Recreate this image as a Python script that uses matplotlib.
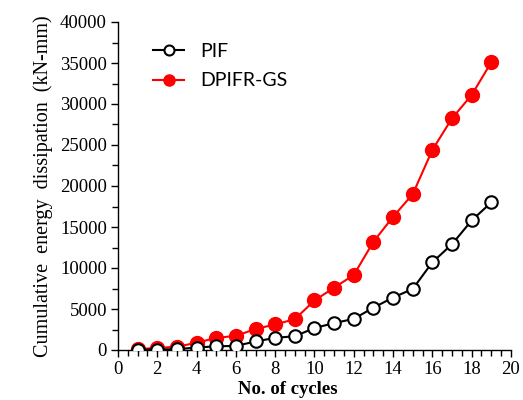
import matplotlib
matplotlib.use('Agg')
from matplotlib import pyplot as plt
from matplotlib.ticker import MultipleLocator

cycles = list(range(1, 20))
pif = [50, 50, 100, 300, 450, 500, 1040, 1480, 1680, 2680, 3280, 3800,
       5160, 6400, 7440, 10700, 12900, 15800, 18000]
dpifr_gs = [100, 250, 400, 880, 1480, 1720, 2560, 3120, 3760, 6040, 7600,
            9150, 13200, 16250, 19000, 24400, 28250, 31100, 35100]

serif = 'Liberation Serif'

fig = plt.figure(figsize=(5.23, 4.0), dpi=100)
ax = fig.add_axes([0.2256, 0.125, 0.7514, 0.82])

ax.plot(cycles, pif, c='black', marker='o', markerfacecolor='white',
        markeredgecolor='black', markeredgewidth=1.5, markersize=9,
        linewidth=1.5, label='PIF', zorder=3)
ax.plot(cycles, dpifr_gs, c='red', marker='o', markerfacecolor='red',
        markeredgecolor='red', markersize=10, linewidth=1.5,
        label='DPIFR-GS', zorder=2)

ax.set_xlim(0, 20)
ax.set_ylim(0, 40000)
ax.xaxis.set_major_locator(MultipleLocator(2))
ax.xaxis.set_minor_locator(MultipleLocator(0.5))
ax.yaxis.set_major_locator(MultipleLocator(5000))
ax.yaxis.set_minor_locator(MultipleLocator(2500))

for side in ['top', 'right']:
    ax.spines[side].set_visible(False)
for side in ['left', 'bottom']:
    ax.spines[side].set_linewidth(1.0)

ax.tick_params(axis='both', which='major', direction='out', length=5,
               width=1.0, labelsize=13.5, pad=3)
ax.tick_params(axis='both', which='minor', direction='out', length=4,
               width=1.0)
for lab in ax.get_xticklabels() + ax.get_yticklabels():
    lab.set_fontfamily(serif)

ax.set_xlabel('No. of cycles', fontsize=13.5, fontfamily=serif,
              fontweight='bold', labelpad=2)
ax.xaxis.label.set_x(0.433)
ax.set_ylabel('Cumulative  energy  dissipation  (kN-mm)', fontsize=14.5,
              fontfamily=serif, labelpad=5)

ax.legend(loc='upper left', bbox_to_anchor=(0.045, 0.99), frameon=False,
          prop={'family': 'Lato', 'size': 14}, handlelength=1.6,
          handletextpad=0.8, labelspacing=0.65, markerscale=0.8)

fig.savefig('out.png', dpi=100)
